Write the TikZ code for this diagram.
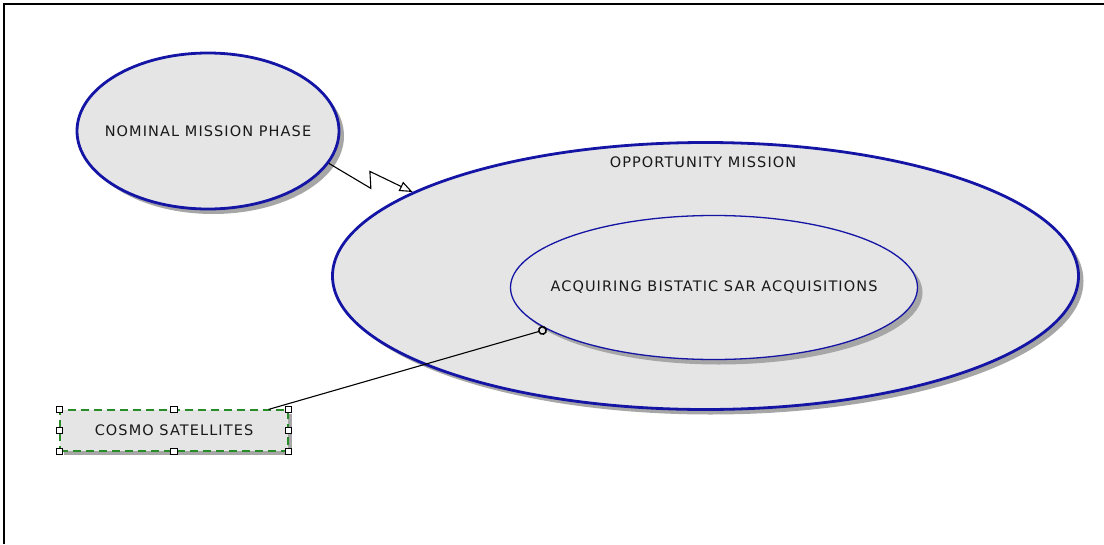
\documentclass[tikz,border=0pt]{standalone}
\usepackage{fontspec}
\setmainfont{DejaVu Sans}[LetterSpace=7.5]
\usepackage{tikz}
\usetikzlibrary{
  arrows.meta,
  positioning,
  shapes.geometric,
  shadows
}
\definecolor{umlblue}{RGB}{20,20,165}
\definecolor{selgreen}{RGB}{40,140,40}

\begin{document}
\begin{tikzpicture}[x=1pt, y=1pt, font=\fontsize{14.5}{17}\selectfont]
% -------------------------
% Frame
% -------------------------
\useasboundingbox (0,0) rectangle (1104,-544);
\draw[line width=2pt] (4,-544) -- (4,-4) -- (1104,-4);

% -------------------------
% Nodes
% -------------------------
\begin{scope}[
  every node/.style={ellipse, fill=black!10, draw=umlblue, inner sep=0pt, text=black!90,
    drop shadow={shadow xshift=5pt, shadow yshift=-5pt, fill=black!35, opacity=1}}
]

\node[line width=2.8pt, minimum width=262, minimum height=156, inner xsep=-20pt] (nominal) at (208,-131) {NOMINAL MISSION PHASE};
\node[line width=2.8pt, minimum width=746, minimum height=267] (opportunity) at (705.5,-276) {};
\node[line width=1.3pt, minimum width=407, minimum height=144, inner xsep=-30pt] (acquiring) at (714,-287.5) {ACQUIRING BISTATIC SAR ACQUISITIONS};

\end{scope}

\node[text=black!90] (opplabel) at (703,-162) {OPPORTUNITY MISSION};

% Selected actor box
\node[draw=selgreen, dashed, dash pattern=on 8pt off 5pt, line width=1.2pt, fill=black!10, text=black!90,
  minimum width=228, minimum height=41, inner sep=0pt,
  drop shadow={shadow xshift=4pt, shadow yshift=-4pt, fill=black!35, opacity=1}]
  (cosmo) at (174,-430.5) {COSMO SATELLITES};

% Selection handles
\foreach \a in {north west, north, north east, west, east, south west, south, south east}
  \node[draw, line width=1pt, fill=white, minimum size=6.5pt, inner sep=0pt] at (cosmo.\a) {};

% -------------------------
% Edges
% -------------------------
\begin{scope}[line width=1.1pt]
\draw [-{Triangle[open, length=13pt, width=10pt]}]
  (nominal.-15) -- ++(42,-25) -- ++(-1,17) -- (opportunity.164);
\draw [-{Circle[open, length=9pt, width=9pt, line width=1.5pt]}]
  ([xshift=-20pt]cosmo.north east) -- (acquiring.194);
\end{scope}

\end{tikzpicture}
\end{document}
